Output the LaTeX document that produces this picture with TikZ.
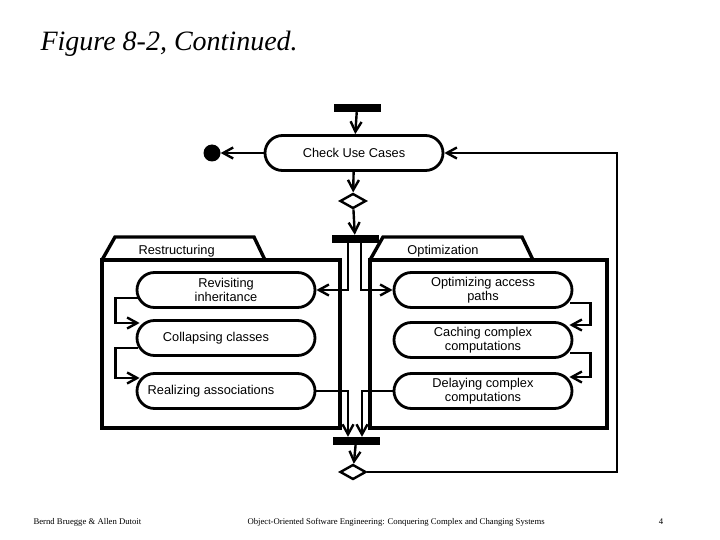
\documentclass[tikz,border=0pt]{standalone}
\usepackage{fontspec}
\setmainfont{Liberation Serif}
\setsansfont{Liberation Sans}
\usetikzlibrary{calc,positioning,shapes.misc,shapes.geometric,arrows.meta}
\tikzset{activity/.style={draw, rounded rectangle, line width=2.8pt, inner sep=0pt,
    minimum width=178pt, minimum height=35pt, align=center, font=\sffamily\fontsize{12.8}{13.8}\selectfont},
  syncbar/.style={fill=black, minimum width=47pt, minimum height=8pt, inner sep=0pt},
  choice/.style={draw, diamond, line width=2.4pt, minimum width=26pt, minimum height=15pt, inner sep=0pt},
  flow/.style={line width=2.4pt, -{Straight Barb[length=10pt,width=11pt,line width=2.4pt]}},
  pkg/.style={line width=3.4pt, line join=miter}}
\begin{document}
\begin{tikzpicture}[x=1pt,y=-1pt]
          \useasboundingbox (0,0) rectangle (720,540);
          \node[anchor=west,font=\itshape\fontsize{28}{28}\selectfont] (title) at (37,44) {Figure 8-2, Continued.};
          % packages
          \draw[pkg] (102,260) -- (115,237) -- (254,237) -- (265,260);
          \draw[pkg] (102,260) rectangle (340,428);
          \draw[pkg] (370,260) -- (383,237) -- (522,237) -- (533,260);
          \draw[pkg] (370,260) rectangle (607,428);
          \node[anchor=west,font=\sffamily\fontsize{12.8}{12.8}\selectfont] (restr) at (135,251) {Restructuring};
          \node[font=\sffamily\fontsize{12.8}{12.8}\selectfont] (optim) at (443,251) {Optimization};
          % nodes
          \node[syncbar] (topbar) at (357,108) {};
          \node[activity] (check) at (354,153) {Check Use Cases};
          \node[circle, fill=black, minimum size=17pt, inner sep=0pt] (final) at (212,153) {};
          \node[choice] (dec1) at (353,201) {};
          \node[syncbar] (fork) at (355,239) {};
          \node[activity] (revisit) at (226,290) {Revisiting\\inheritance};
          \node[activity] (collapse) at (226,338) {\hspace*{-20pt}Collapsing classes};
          \node[activity] (realize) at (226,391) {\hspace*{-30pt}Realizing associations};
          \node[activity] (optimize) at (483,290) {Optimizing access\\paths};
          \node[activity] (caching) at (483,340) {Caching complex\\computations};
          \node[activity] (delay) at (483,391) {Delaying complex\\computations};
          \node[syncbar] (join) at (356,441) {};
          \node[choice] (dec2) at (353,472) {};
          \coordinate (back) at (617,472);
          % flows
          \draw[flow] (topbar) -- (check);
          \draw[flow] (check) -- (final);
          \draw[flow] (check) -- (dec1);
          \draw[flow] (dec1) -- (fork);
          \draw[flow] ([xshift=-7pt]fork.south) |- (revisit.east);
          \draw[flow] ([xshift=6pt]fork.south) |- (optimize.west);
          \draw[flow] ([shift={(2pt,-8pt)}]revisit.west) -- ++(-22,0) |- ([shift={(4pt,15pt)}]collapse.west);
          \draw[flow] ([shift={(2pt,-10pt)}]collapse.west) -- ++(-22,0) |- ([shift={(4pt,13pt)}]realize.west);
          \draw[flow] ([shift={(-3pt,-13pt)}]optimize.east) -- ++(20,0) |- ([shift={(-4pt,15pt)}]caching.east);
          \draw[flow] ([shift={(-3pt,-13pt)}]caching.east) -- ++(20,0) |- ([shift={(-4pt,14pt)}]delay.east);
          \draw[flow] (realize.east) -| ([xshift=-8pt]join.north);
          \draw[flow] (delay.west) -| ([xshift=6pt]join.north);
          \draw[flow] (join) -- (dec2);
          \draw[flow] (dec2.east) -- (back) |- (check.east);
          % footer
          \node[anchor=west,font=\fontsize{8.7}{8.7}\selectfont] (authors) at (30,522) {Bernd Bruegge \& Allen Dutoit};
          \node[anchor=west,font=\fontsize{8.7}{8.7}\selectfont] (book) at (244,522) {Object-Oriented Software Engineering: Conquering Complex and Changing Systems};
          \node[font=\fontsize{8.7}{8.7}\selectfont] (page) at (661,522) {4};
        \end{tikzpicture}
\end{document}
